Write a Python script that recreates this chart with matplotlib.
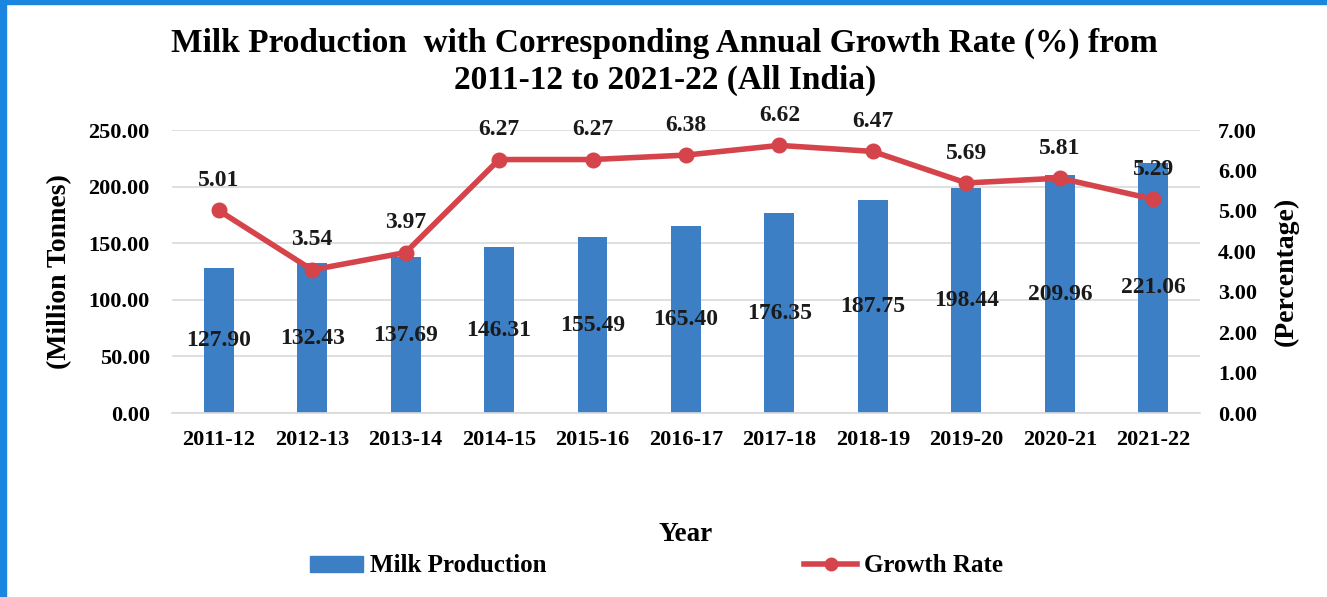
import matplotlib.pyplot as plt
import matplotlib.patches as mpatches
import numpy as np

years = ['2011-12', '2012-13', '2013-14', '2014-15', '2015-16', '2016-17',
         '2017-18', '2018-19', '2019-20', '2020-21', '2021-22']
production = [127.90, 132.43, 137.69, 146.31, 155.49, 165.40,
              176.35, 187.75, 198.44, 209.96, 221.06]
growth = [5.01, 3.54, 3.97, 6.27, 6.27, 6.38, 6.62, 6.47, 5.69, 5.81, 5.29]

bar_color = '#3d7fc4'
line_color = '#d5434b'
plt.rcParams['font.family'] = ['Liberation Serif', 'DejaVu Serif']
plt.rcParams['font.weight'] = 'bold'

fig = plt.figure(figsize=(13.27, 5.97), dpi=100)
ax = fig.add_axes([0.1296, 0.3082, 0.7747, 0.474])
x = np.arange(len(years))

ax.bar(x, production, width=0.32, color=bar_color, zorder=2)
ax.set_xlim(-0.5, len(years) - 0.5)
ax.set_ylim(0, 250)
ax.set_yticks(np.arange(0, 251, 50))
ax.set_yticklabels([f'{v:.2f}' for v in np.arange(0, 251, 50)])
ax.set_xticks(x)
ax.set_xticklabels(years)
ax.yaxis.grid(True, color='#d9d9d9', linewidth=1.2, zorder=0)
ax.set_axisbelow(True)
for s in ['top', 'left', 'right']:
    ax.spines[s].set_visible(False)
ax.spines['bottom'].set_color('#d9d9d9')
ax.spines['bottom'].set_linewidth(1.2)
ax.tick_params(axis='both', length=0, labelsize=16)
ax.tick_params(axis='x', pad=12)
ax.tick_params(axis='y', pad=16)
ax.set_ylabel('(Million Tonnes)', fontsize=20, fontweight='bold', labelpad=12)
ax.set_xlabel('Year', fontsize=19.5, fontweight='bold', labelpad=52)

# bar value labels sit at the middle of each bar
for xi, v in zip(x, production):
    ax.text(xi, v / 2, f'{v:.2f}', ha='center', va='center',
            fontsize=17, fontweight='bold', color='#1a1a1a', zorder=4)

ax2 = ax.twinx()
ax2.plot(x, growth, color=line_color, linewidth=4, marker='o',
         markersize=10.5, zorder=3)
ax2.set_ylim(0, 7)
ax2.set_yticks(np.arange(0, 8, 1))
ax2.set_yticklabels([f'{v:.2f}' for v in np.arange(0, 8, 1)])
for s in ['top', 'left', 'right', 'bottom']:
    ax2.spines[s].set_visible(False)
ax2.tick_params(axis='y', length=0, labelsize=16, pad=13)
ax2.set_ylabel('(Percentage)', fontsize=20, fontweight='bold',
               rotation=90, labelpad=12)
for xi, g in zip(x, growth):
    ax2.annotate(f'{g:.2f}', (xi, g), xytext=(0, 14), textcoords='offset points',
                 ha='center', va='bottom', fontsize=17, fontweight='bold',
                 color='#1a1a1a')

fig.text(0.501, 0.928, 'Milk Production  with Corresponding Annual Growth Rate (%) from',
         ha='center', va='center', fontsize=24, fontweight='bold')
fig.text(0.501, 0.866, '2011-12 to 2021-22 (All India)',
         ha='center', va='center', fontsize=24, fontweight='bold')

handles = [mpatches.Patch(color=bar_color, label='Milk Production'),
           plt.Line2D([], [], color=line_color, linewidth=4, marker='o',
                      markersize=9, label='Growth Rate')]
fig.legend(handles=handles, loc='center', bbox_to_anchor=(0.495, 0.052),
           ncol=2, frameon=False, fontsize=18, columnspacing=10.3,
           handlelength=2.1, handleheight=0.6, handletextpad=0.3)

# blue frame along the left and top edges
fig.patches.append(mpatches.Rectangle((0, 0), 0.0045, 1, transform=fig.transFigure,
                                      color='#1a86e0', zorder=10))
fig.patches.append(mpatches.Rectangle((0, 0.993), 1, 0.007, transform=fig.transFigure,
                                      color='#1a86e0', zorder=10))

fig.savefig('out.png', dpi=100)
